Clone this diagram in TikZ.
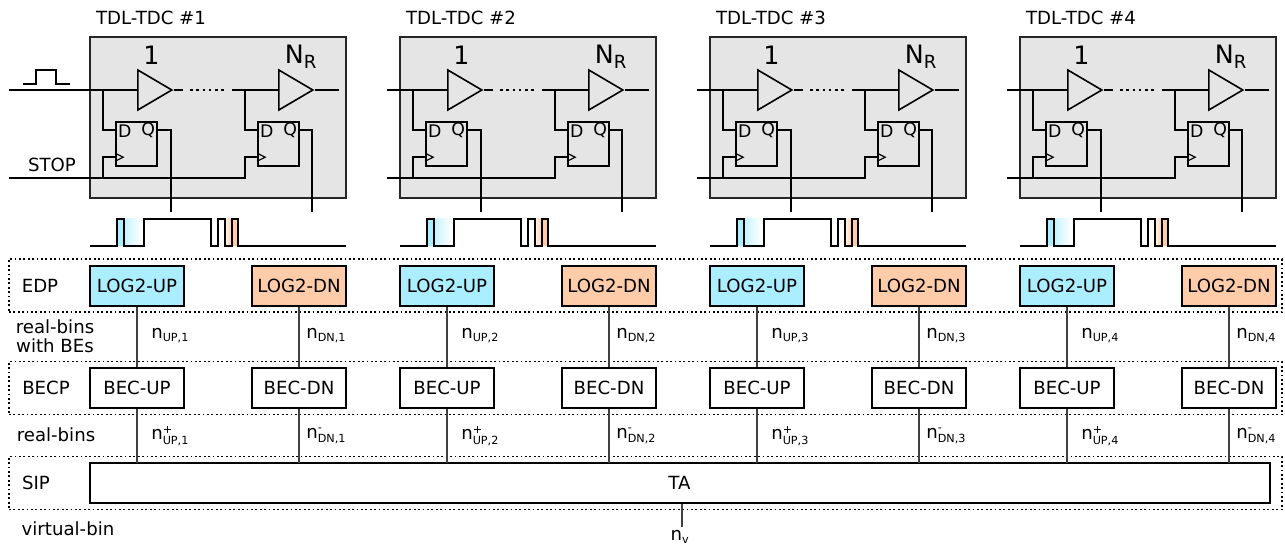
\documentclass[tikz,border=0pt]{standalone}
\usepackage{amsmath}
\usepackage{fontspec}
\setmainfont{DejaVu Sans}
\DeclareMathSizes{13.6}{13.6}{8.4}{6}
\DeclareMathSizes{19}{19}{13.6}{9}
\usetikzlibrary{positioning,arrows.meta,calc,shapes.geometric,fit}
\definecolor{upblue}{HTML}{AAEEFF}
\definecolor{dnorange}{HTML}{FFCCAA}
\definecolor{tdcgray}{HTML}{E5E5E5}
\tikzset{
  tdcbox/.style={rectangle,draw=black!85,line width=1.2pt,fill=tdcgray,minimum width=192pt,minimum height=120.75pt},
  buffer/.style={isosceles triangle,isosceles triangle stretches,draw,line width=1.2pt,fill=tdcgray,inner sep=0pt,minimum width=30pt,minimum height=25.5pt,anchor=west},
  flipflop/.style={rectangle,draw,line width=1.2pt,fill=tdcgray,inner sep=0pt,minimum width=30.75pt,minimum height=33pt},
  logblock/.style={rectangle,draw,line width=1.6pt,inner sep=0pt,minimum width=70.5pt,minimum height=30pt},
  becblock/.style={logblock,line width=1.5pt,fill=white},
  stageframe/.style={rectangle,draw,dotted,line width=1.3pt,inner sep=0pt,minimum width=954.75pt,minimum height=39.75pt},
  wire/.style={line width=1.3pt},
  binwire/.style={line width=1pt,draw=black!75},
  txt/.style={inner sep=0pt,align=center},
  fflabel/.style={inner sep=0pt,anchor=base,font=\fontsize{13}{15}\selectfont}
}
\begin{document}
\begin{tikzpicture}[x=0.75pt,y=-0.75pt,font=\fontsize{13.6}{14.3}\selectfont]
\useasboundingbox (0,0) rectangle (1285,545);

% stage frames
\node[stageframe] (edp) at (645.5,285.5) {};
\node[stageframe] (becp) at (645.5,388) {};
\node[stageframe] (sip) at (645.5,483) {};
\node[txt] (edplabel) at (40,286) {EDP};
\node[txt] (becplabel) at (46,388) {BECP};
\node[txt] (siplabel) at (36,483) {SIP};
\node[txt] (withbes) at (55,336) {real-bins\\with BEs};
\node[txt] (reallabel) at (56,435) {real-bins};
\node[txt] (virtlabel) at (68,529) {virtual-bin};

\node[logblock,line width=1.5pt,fill=white,minimum width=885pt] (ta) at (679.5,483) {TA};

\foreach \k/\ox/\inx in {1/0/9,2/310/77,3/620/77,4/930/77}{
\begin{scope}[xshift=\ox*0.75pt]
  \node[txt] (title\k) at (151,18) {TDL-TDC \#\k};
  \node[tdcbox] (tdc\k) at (218,117.5) {};
  \node[txt,font=\fontsize{19}{21}\selectfont] (first\k) at (151.5,55) {1};
  \node[txt,font=\fontsize{19}{21}\selectfont] (last\k) at (301,57) {N$_{\text{R}}$};

  \node[buffer] (bufa\k) at (137,90) {};
  \node[buffer] (bufb\k) at (278,90) {};
  \node[flipflop] (ffa\k) at (136.5,144) {};
  \node[flipflop] (ffb\k) at (278.5,144) {};
  \foreach \ff in {ffa,ffb}{
    \node[fflabel] at ($(\ff\k.north west)+(9.5,16)$) {D};
    \node[fflabel] at ($(\ff\k.north east)+(-9.5,14.5)$) {Q};
    \draw[line width=0.9pt] ($(\ff\k.north west)+(0,32)$) -- ++(8,4) -- ++(-8,4);
  }

  % data and stop lines
  \coordinate (in\k) at (\inx,90);
  \coordinate (stopin\k) at (\inx,178);
  \coordinate (stopend\k) at (245,178);
  \coordinate (dotsa\k) at (183,90);
  \coordinate (dotsb\k) at (232,90);
  \coordinate (out\k) at (339,90);
  \coordinate (qa\k) at (171,212);
  \coordinate (qb\k) at (312,212);
  \draw[wire] (in\k) -- (bufa\k.west);
  \draw[wire] (bufa\k.east) -- (dotsa\k);
  \draw[line width=1.2pt,dash pattern=on 2pt off 2.7pt] (190,90) -- (224,90);
  \draw[wire] (dotsb\k) -- (bufb\k.west);
  \draw[wire] (bufb\k.east) -- (out\k);
  \draw[wire] (103,90) |- ($(ffa\k.north west)+(0,9)$);
  \draw[wire] (245,90) |- ($(ffb\k.north west)+(0,9)$);
  \draw[wire] (stopin\k) -- (stopend\k) |- ($(ffb\k.north west)+(0,36)$);
  \draw[wire] (103,178) |- ($(ffa\k.north west)+(0,36)$);
  \draw[wire] ($(ffa\k.north east)+(0,9)$) -| (qa\k);
  \draw[wire] ($(ffb\k.north east)+(0,9)$) -| (qb\k);

  % output waveform
  \fill[upblue] (117,219) rectangle (124,246);
  \shade[left color=upblue!70,right color=white] (124,219) rectangle (141,246);
  \shade[left color=dnorange!20,right color=dnorange] (225,219) rectangle (232,246);
  \fill[dnorange] (232,219) rectangle (238,246);
  \draw[wire] (90,246) -- (117,246) -- (117,219) -- (124,219) -- (124,246) -- (144,246)
    -- (144,219) -- (211,219) -- (211,246) -- (218,246) -- (218,219) -- (225,219)
    -- (225,246) -- (232,246) -- (232,219) -- (238,219) -- (238,246) -- (346,246);

  % processing blocks
  \node[logblock,fill=upblue] (logup\k) at (137,286) {LOG2-UP\hspace{3.5pt}};
  \node[logblock,fill=dnorange] (logdn\k) at (299,286) {LOG2-DN};
  \node[becblock] (becup\k) at (137,388) {BEC-UP};
  \node[becblock] (becdn\k) at (299,388) {BEC-DN};
  \coordinate (taup\k) at (137,463);
  \coordinate (tadn\k) at (299,463);

  \draw[binwire] (logup\k) -- (becup\k);
  \draw[binwire] (logdn\k) -- (becdn\k);
  \draw[binwire] (becup\k) -- (taup\k);
  \draw[binwire] (becdn\k) -- (tadn\k);

  \node[txt,anchor=west] (nup\k) at (151,336) {n$_{\text{UP,\k}}$};
  \node[txt,anchor=west] (ndn\k) at (306,336) {n$_{\text{DN,\k}}$};
  \node[txt,anchor=west] (npl\k) at (151,436) {n$^{\text{+}}_{\text{UP,\k}}$};
  \node[txt,anchor=west] (nmi\k) at (306,436) {n$^{\text{-}}_{\text{DN,\k}}$};
\end{scope}
}

% first channel only
\coordinate (pulsea) at (23,84);
\coordinate (pulseb) at (70,84);
\draw[wire] (pulsea) -- (36,84) -- (36,70) -- (56,70) -- (56,84) -- (pulseb);
\node[txt] (stoplabel) at (52,165) {STOP};

% virtual bin
\node[txt] (nv) at (680,537) {n$_{\text{v}}$};
\coordinate (nvtop) at (682,527);
\draw[binwire] (ta.south -| nvtop) -- (nvtop);
\end{tikzpicture}
\end{document}
